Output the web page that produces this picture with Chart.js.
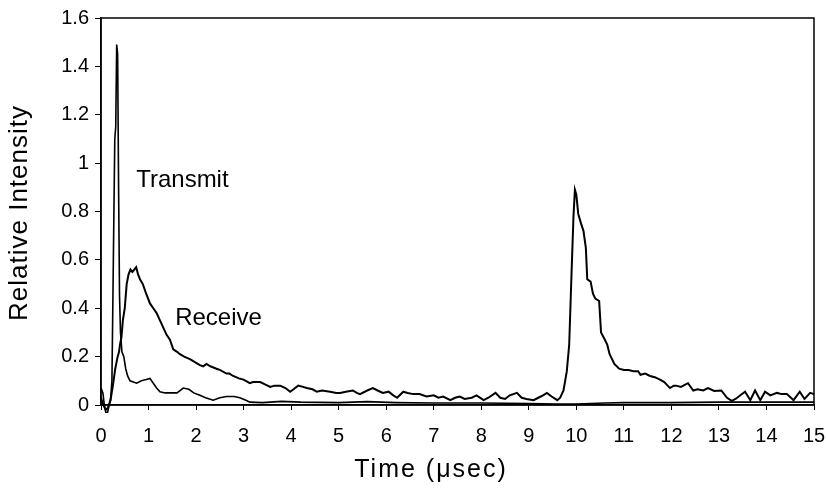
<!DOCTYPE html>
<html>
<head>
<meta charset="utf-8">
<script src="https://cdn.jsdelivr.net/npm/chart.js@4/dist/chart.umd.min.js"></script>
<style>
html,body{margin:0;padding:0;background:#fff;}
#wrap{width:827px;height:494px;}
</style>
</head>
<body>
<div id="wrap"><canvas id="c" width="827" height="494"></canvas></div>
<script>
// ---- data (time in µs, relative intensity) ----
const transmitTime = [
  0.00,0.04,0.07,0.10,0.14,0.17,0.20,0.23,0.26,0.29,
  0.31,0.33,0.35,0.37,0.39,0.41,0.44,0.48,0.52,0.56,
  0.61,0.68,0.75,0.85,0.95,1.03,1.10,1.17,1.24,1.35,
  1.45,1.60,1.73,1.85,1.95,2.08,2.20,2.36,2.50,2.64,
  2.80,2.92,3.05,3.13,3.40,3.80,4.20,5.00,5.60,6.20,
  7.00,8.00,9.00,9.60,10.00,10.60,11.00,12.00,13.00,14.00,
  15.00];
const transmitValue = [
  0.07,0.05,0.00,-0.03,-0.03,0.00,0.02,0.10,0.60,1.10,
  1.15,1.49,1.45,0.90,0.45,0.30,0.22,0.20,0.15,0.12,
  0.10,0.095,0.09,0.10,0.105,0.11,0.09,0.07,0.055,0.05,
  0.05,0.05,0.07,0.065,0.05,0.04,0.03,0.02,0.03,0.035,
  0.035,0.03,0.02,0.012,0.01,0.015,0.012,0.01,0.014,0.01,
  0.008,0.008,0.006,0.004,0.004,0.008,0.01,0.01,0.012,0.012,
  0.012];

const receiveTime = [
  0.00,0.05,0.10,0.15,0.20,0.25,0.30,0.35,0.38,0.40,
  0.43,0.46,0.50,0.54,0.58,0.62,0.66,0.70,0.74,0.78,
  0.82,0.88,0.95,1.03,1.10,1.17,1.24,1.31,1.38,1.45,
  1.52,1.60,1.66,1.75,1.87,1.95,2.08,2.15,2.22,2.30,
  2.43,2.50,2.64,2.70,2.78,2.90,3.00,3.13,3.20,3.35,
  3.45,3.56,3.65,3.77,3.88,3.98,4.05,4.15,4.25,4.33,
  4.45,4.54,4.65,4.82,4.95,5.03,5.15,5.30,5.38,5.45,
  5.60,5.72,5.82,5.93,6.05,6.15,6.23,6.36,6.45,6.57,
  6.70,6.85,7.00,7.10,7.20,7.35,7.45,7.55,7.65,7.80,
  7.90,8.05,8.15,8.30,8.40,8.50,8.60,8.75,8.85,8.95,
  9.10,9.20,9.30,9.38,9.48,9.60,9.66,9.73,9.80,9.85,
  9.90,9.94,9.97,10.00,10.04,10.10,10.15,10.20,10.23,10.30,
  10.35,10.40,10.48,10.52,10.60,10.65,10.70,10.80,10.90,11.00,
  11.10,11.20,11.30,11.35,11.45,11.55,11.65,11.76,11.85,11.97,
  12.05,12.10,12.20,12.35,12.46,12.55,12.67,12.77,12.90,13.05,
  13.17,13.27,13.35,13.45,13.55,13.66,13.76,13.87,13.97,14.08,
  14.22,14.32,14.43,14.57,14.70,14.80,14.92,15.00];
const receiveValue = [
  0.03,0.00,-0.02,-0.01,0.02,0.08,0.15,0.20,0.22,0.25,
  0.28,0.35,0.40,0.50,0.54,0.56,0.55,0.56,0.57,0.54,
  0.52,0.50,0.46,0.42,0.40,0.38,0.35,0.32,0.29,0.27,
  0.23,0.22,0.21,0.20,0.19,0.18,0.165,0.16,0.17,0.16,
  0.15,0.145,0.13,0.13,0.12,0.11,0.105,0.09,0.095,0.095,
  0.085,0.075,0.08,0.08,0.07,0.055,0.065,0.08,0.075,0.07,
  0.065,0.055,0.06,0.055,0.05,0.05,0.055,0.06,0.05,0.045,
  0.06,0.07,0.06,0.05,0.055,0.04,0.03,0.055,0.05,0.045,
  0.045,0.035,0.04,0.03,0.035,0.02,0.03,0.035,0.025,0.03,
  0.04,0.02,0.03,0.05,0.03,0.025,0.04,0.05,0.03,0.025,
  0.02,0.03,0.04,0.05,0.035,0.02,0.03,0.06,0.14,0.25,
  0.55,0.78,0.89,0.87,0.79,0.75,0.72,0.65,0.52,0.51,
  0.46,0.44,0.43,0.30,0.27,0.25,0.21,0.17,0.15,0.145,
  0.145,0.14,0.14,0.125,0.13,0.12,0.115,0.105,0.095,0.07,
  0.08,0.08,0.075,0.09,0.06,0.065,0.06,0.07,0.058,0.06,
  0.03,0.017,0.025,0.04,0.055,0.02,0.06,0.02,0.055,0.04,
  0.05,0.045,0.045,0.02,0.055,0.025,0.05,0.045];

const xTicks = [0,1,2,3,4,5,6,7,8,9,10,11,12,13,14,15];
const yTicks = [0,0.2,0.4,0.6,0.8,1,1.2,1.4,1.6];
const seriesLabels = ["Transmit","Receive"];
const labelAnchors = [[0.74,0.93],[1.56,0.36]]; // data coords where the text labels sit
const xTitle = "Time (\u03bcsec)";
const yTitle = "Relative Intensity";

const FONT = "'Liberation Sans', Arial, sans-serif";

function pairs(t, v){ return t.map((x,i)=>({x:x,y:v[i]})); }

const frame = {
  id:'frame',
  afterDatasetsDraw(chart){
    const {ctx, chartArea:a, scales} = chart;
    ctx.save();
    ctx.strokeStyle='#000'; ctx.lineWidth=1.5;
    ctx.strokeRect(a.left, a.top, a.right-a.left, a.bottom-a.top);
    ctx.fillStyle='#000';
    ctx.font = "24px " + FONT;
    ctx.textBaseline='middle'; ctx.textAlign='left';
    seriesLabels.forEach((s,i)=>{
      ctx.fillText(s, scales.x.getPixelForValue(labelAnchors[i][0]), scales.y.getPixelForValue(labelAnchors[i][1]));
    });
    // axis titles
    ctx.font = "25px " + FONT;
    ctx.textAlign='center';
    try { ctx.letterSpacing = '2px'; } catch(e) {}
    ctx.fillText(xTitle, 431, 470);
    ctx.translate(20, 213);
    ctx.rotate(-Math.PI/2);
    ctx.font = "26px " + FONT;
    try { ctx.letterSpacing = '1px'; } catch(e) {}
    ctx.fillText(yTitle, 0, 0);
    ctx.restore();
  }
};

new Chart(document.getElementById('c'), {
  type:'line',
  data:{
    datasets:[
      {label:seriesLabels[0], data:pairs(transmitTime, transmitValue), borderColor:'#000', borderWidth:1.6, pointRadius:0, tension:0, clip:false},
      {label:seriesLabels[1], data:pairs(receiveTime, receiveValue), borderColor:'#000', borderWidth:2, pointRadius:0, tension:0, clip:false}
    ]
  },
  options:{
    responsive:false, animation:false, devicePixelRatio:1,
    layout:{padding:{top:18,right:13,left:0,bottom:0}},
    plugins:{legend:{display:false}, tooltip:{enabled:false}},
    scales:{
      x:{
        type:'linear', min:0, max:15,
        afterBuildTicks(s){ s.ticks = xTicks.map(v=>({value:v})); },
        afterFit(s){ s.height = 89; s.paddingLeft = 0; s.paddingRight = 0; },
        grid:{drawOnChartArea:false, drawTicks:true, tickLength:5, color:'#000', tickWidth:1},
        border:{color:'#000', width:1.5},
        ticks:{color:'#000', font:{family:FONT, size:20}, padding:14, maxRotation:0, callback:v=>String(+(+v).toFixed(1))},
        title:{display:false}
      },
      y:{
        type:'linear', min:0, max:1.6,
        afterBuildTicks(s){ s.ticks = yTicks.map(v=>({value:v})); },
        afterFit(s){ s.width = 101; s.paddingTop = 0; s.paddingBottom = 0; },
        grid:{drawOnChartArea:false, drawTicks:true, tickLength:6, color:'#000', tickWidth:1},
        border:{color:'#000', width:1.5},
        ticks:{color:'#000', font:{family:FONT, size:20}, padding:6, callback:v=>String(+(+v).toFixed(1))},
        title:{display:false}
      }
    }
  },
  plugins:[frame]
});
</script>
</body>
</html>
